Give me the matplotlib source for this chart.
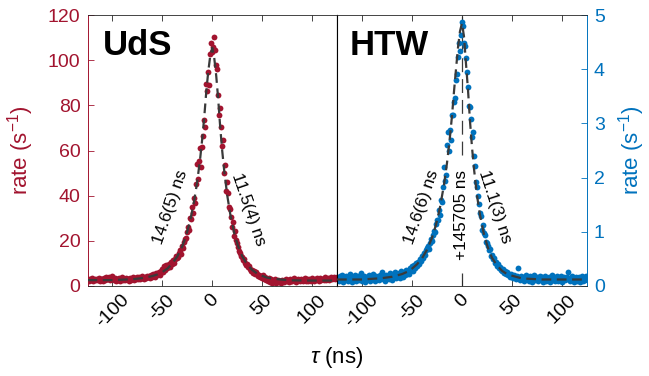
import numpy as np
import matplotlib
matplotlib.use("Agg")
import matplotlib.pyplot as plt

plt.rcParams["font.family"] = ["Liberation Sans", "DejaVu Sans"]
plt.rcParams["mathtext.fontset"] = "custom"
plt.rcParams["mathtext.rm"] = "Liberation Sans"
plt.rcParams["mathtext.it"] = "Liberation Sans:italic"
plt.rcParams["lines.scale_dashes"] = False

RED = "#A2142F"
BLUE = "#0072BD"
FIT = "#3a3a3a"
AXC = "#262626"

# 1 ns bins, centres from -124.5 to 124.5 ns
tau = np.arange(-124.5, 125.0, 1.0)

uds_rate = np.array([
    2.9, 2.4, 3.1, 2.6, 3.5, 2.2, 2.8, 3.3, 2.5, 3.0,
    2.7, 3.6, 2.3, 2.9, 3.2, 2.0, 3.4, 2.6, 3.8, 2.9,
    3.3, 4.1, 2.5, 3.7, 4.4, 3.0, 2.7, 3.5, 2.4, 3.1,
    2.8, 3.4, 2.2, 3.0, 3.9, 2.6, 3.2, 2.5, 3.6, 2.9,
    3.1, 2.4, 3.7, 2.8, 3.3, 4.0, 2.7, 3.5, 2.9, 3.8,
    3.2, 4.2, 2.9, 3.6, 4.5, 3.4, 3.0, 4.1, 3.7, 4.6,
    3.8, 4.4, 3.5, 4.9, 4.2, 5.3, 4.6, 4.0, 5.6, 4.9,
    5.5, 6.3, 5.0, 6.8, 7.4, 6.0, 8.9, 7.2, 9.4, 8.1,
    8.6, 9.8, 8.4, 10.5, 9.6, 11.3, 10.4, 12.0, 13.4, 12.2,
    13.0, 14.6, 15.8, 14.2, 17.9, 16.8, 19.5, 20.8, 21.4, 24.1,
    26.0, 24.8, 30.1, 29.6, 35.0, 32.4, 38.9, 36.7, 45.0, 54.0,
    47.5, 55.2, 60.9, 52.8, 61.5, 66.4, 73.7, 70.6, 89.4, 86.3,
    94.6, 89.0, 102.7, 107.4, 103.8, 106.0, 110.2, 104.5, 98.0, 96.1,
    84.7, 75.9, 78.6, 70.3, 61.8, 64.6, 50.0, 53.4, 42.1, 46.0,
    41.0, 35.2, 34.3, 30.6, 26.1, 28.2, 22.0, 24.3, 20.3, 18.9,
    17.1, 15.3, 14.8, 13.2, 12.9, 11.4, 11.9, 10.1, 9.3, 9.7,
    8.2, 8.9, 7.4, 6.8, 7.2, 5.9, 6.5, 5.4, 6.1, 5.2,
    4.6, 5.0, 3.9, 4.4, 3.4, 4.8, 3.1, 3.8, 2.6, 3.3,
    2.2, 3.6, 1.8, 2.9, 1.5, 2.4, 1.9, 3.1, 1.4, 2.0,
    2.6, 1.7, 2.3, 1.3, 2.8, 2.0, 1.6, 2.5, 3.0, 2.2,
    2.7, 1.9, 3.2, 2.4, 2.0, 2.9, 3.4, 2.3, 1.8, 2.8,
    3.1, 2.5, 2.0, 3.3, 2.6, 2.2, 3.0, 3.6, 2.4, 2.9,
    2.3, 3.2, 2.7, 2.1, 3.5, 2.8, 2.4, 3.1, 2.6, 3.4,
    2.9, 2.2, 3.7, 2.5, 3.0, 3.3, 2.6, 3.9, 2.8, 3.2,
    3.5, 2.7, 3.1, 4.0, 2.9, 3.4, 3.8, 3.0, 3.6, 4.2,
])

htw_rate = np.array([
    0.14, 0.09, 0.18, 0.12, 0.21, 0.08, 0.15, 0.11, 0.19, 0.13,
    0.10, 0.17, 0.22, 0.12, 0.08, 0.16, 0.13, 0.20, 0.09, 0.14,
    0.18, 0.11, 0.15, 0.24, 0.10, 0.13, 0.19, 0.07, 0.16, 0.12,
    0.15, 0.21, 0.09, 0.17, 0.12, 0.23, 0.14, 0.10, 0.18, 0.13,
    0.16, 0.11, 0.20, 0.14, 0.25, 0.12, 0.18, 0.09, 0.21, 0.15,
    0.19, 0.13, 0.24, 0.17, 0.11, 0.22, 0.16, 0.26, 0.14, 0.20,
    0.18, 0.24, 0.15, 0.27, 0.21, 0.17, 0.25, 0.20, 0.29, 0.23,
    0.27, 0.22, 0.33, 0.30, 0.36, 0.28, 0.38, 0.34, 0.42, 0.37,
    0.45, 0.40, 0.50, 0.47, 0.56, 0.52, 0.61, 0.58, 0.66, 0.70,
    0.73, 0.69, 0.80, 0.86, 0.83, 0.95, 1.01, 0.99, 1.14, 1.22,
    1.22, 1.40, 1.31, 1.59, 1.55, 1.82, 2.20, 1.94, 2.05, 2.60,
    2.85, 2.50, 2.87, 2.70, 3.15, 3.16, 3.39, 3.47, 3.80, 3.92,
    4.22, 4.48, 4.34, 4.64, 4.88, 4.79, 4.48, 4.42, 4.20, 3.94,
    3.68, 3.33, 3.31, 3.09, 2.75, 2.84, 2.39, 2.22, 1.92, 1.83,
    1.66, 1.52, 1.34, 1.29, 1.03, 1.12, 0.97, 0.95, 0.81, 0.80,
    0.73, 0.66, 0.69, 0.55, 0.58, 0.49, 0.52, 0.42, 0.44, 0.37,
    0.40, 0.33, 0.35, 0.30, 0.27, 0.31, 0.24, 0.28, 0.22, 0.26,
    0.20, 0.23, 0.17, 0.22, 0.19, 0.14, 0.21, 0.16, 0.12, 0.18,
    0.33, 0.15, 0.11, 0.19, 0.13, 0.17, 0.09, 0.14, 0.20, 0.12,
    0.16, 0.10, 0.18, 0.13, 0.08, 0.15, 0.21, 0.11, 0.14, 0.17,
    0.09, 0.13, 0.19, 0.12, 0.16, 0.07, 0.14, 0.18, 0.10, 0.15,
    0.12, 0.17, 0.08, 0.14, 0.20, 0.11, 0.16, 0.09, 0.13, 0.18,
    0.10, 0.15, 0.12, 0.19, 0.08, 0.14, 0.17, 0.11, 0.13, 0.16,
    0.26, 0.12, 0.09, 0.15, 0.18, 0.11, 0.07, 0.14, 0.16, 0.10,
    0.13, 0.17, 0.08, 0.12, 0.19, 0.10, 0.15, 0.11, 0.18, 0.14,
])

# fitted curves
uds_fit_t = [-125, -100, -80, -70, -60, -55, -50, -45, -40, -35, -30, -26, -22,
             -18, -15, -12, -10, -8, -6, -4, -2, 0, 2, 4, 6, 8, 10, 12, 15, 18,
             22, 26, 30, 35, 40, 45, 50, 55, 60, 70, 80, 100, 125]
uds_fit = [2.6, 2.6, 3.0, 3.5, 4.4, 5.1, 6.2, 7.7, 10.0, 13.1, 17.6, 22.6, 29.2,
           38.0, 46.4, 56.9, 65.3, 74.9, 86.0, 95.0, 102.0, 105.5, 101.0, 93.0,
           82.5, 70.2, 59.8, 51.0, 40.2, 31.9, 23.5, 17.5, 13.2, 9.5, 7.1, 5.5,
           4.5, 3.7, 3.3, 2.8, 2.5, 2.4, 2.4]
htw_fit_t = [-125, -100, -80, -70, -60, -55, -50, -45, -40, -35, -30, -26, -22,
             -18, -15, -12, -10, -8, -6, -4, -2, 0, 2, 4, 6, 8, 10, 12, 15, 18,
             22, 26, 30, 35, 40, 45, 50, 60, 80, 100, 125]
htw_fit = [0.12, 0.12, 0.145, 0.17, 0.22, 0.26, 0.32, 0.40, 0.51, 0.67, 0.89,
           1.13, 1.45, 1.87, 2.27, 2.76, 3.14, 3.59, 4.00, 4.40, 4.70, 4.85,
           4.60, 4.10, 3.62, 3.04, 2.56, 2.16, 1.67, 1.31, 0.95, 0.70, 0.52,
           0.38, 0.28, 0.22, 0.19, 0.14, 0.12, 0.12, 0.12]

xticks = [-100, -50, 0, 50, 100]
xticklabels = ["-100", "-50", "0", "50", "100"]
uds_yticks = [0, 20, 40, 60, 80, 100, 120]
htw_yticks = [0, 1, 2, 3, 4, 5]

fig = plt.figure(figsize=(6.49, 3.76), dpi=100)
W, H = 649, 376
ax1 = fig.add_axes([87.5 / W, 90 / H, 249.5 / W, 271 / H])
ax2 = fig.add_axes([337 / W, 90 / H, 250 / W, 271 / H])

for ax, rate, ft, fv, col, ylim, yt in [
    (ax1, uds_rate, uds_fit_t, uds_fit, RED, 120, uds_yticks),
    (ax2, htw_rate, htw_fit_t, htw_fit, BLUE, 5, htw_yticks),
]:
    ax.plot(tau, rate, "o", ms=4.2, color=col, mec="none", zorder=2)
    ax.plot(ft, fv, color=FIT, lw=1.6, dashes=(7, 4), zorder=3)
    ax.set_xlim(-125, 125)
    ax.set_ylim(0, ylim)
    ax.set_xticks(xticks)
    ax.set_xticklabels(xticklabels, rotation=45, ha="center")
    ax.set_yticks(yt)
    ax.tick_params(axis="x", direction="in", top=True, bottom=True, length=4,
                   width=0.6, color=AXC, labelsize=14, labelcolor="black", pad=4)
    for s in ["top", "bottom"]:
        ax.spines[s].set_color(AXC)
        ax.spines[s].set_linewidth(0.6)

# left panel axis styling
ax1.tick_params(axis="y", direction="in", left=True, right=False, length=4,
                width=0.6, color=RED, labelcolor=RED, labelsize=14, pad=5)
ax1.spines["left"].set_color(RED)
ax1.spines["left"].set_linewidth(0.7)
ax1.spines["right"].set_color("black")
ax1.spines["right"].set_linewidth(0.8)
ax1.set_ylabel("rate (s$^{-1}$)", color=RED, fontsize=16, va="center")
ax1.yaxis.set_label_coords(-0.27, 0.5)

# right panel axis styling
ax2.yaxis.tick_right()
ax2.yaxis.set_label_position("right")
ax2.tick_params(axis="y", direction="in", left=False, right=True, length=4,
                width=0.6, color=BLUE, labelcolor=BLUE, labelsize=14, pad=5)
ax2.spines["right"].set_color(BLUE)
ax2.spines["right"].set_linewidth(0.7)
ax2.spines["left"].set_color("black")
ax2.spines["left"].set_linewidth(0.8)
ax2.set_ylabel("rate (s$^{-1}$)", color=BLUE, fontsize=16, rotation=90, va="center")
ax2.yaxis.set_label_coords(1.18, 0.5)

# time offset marker in HTW panel
for lo, hi in [(0, 0.047), (0.485, 1)]:
    ax2.axvline(0, ymin=lo, ymax=hi, color=FIT, lw=0.9, dashes=(10, 5), zorder=1)

# labels
ax1.text(-110, 102.3, "UdS", fontsize=25, fontweight="bold", ha="left", va="baseline")
ax2.text(-112.5, 4.26, "HTW", fontsize=25, fontweight="bold", ha="left", va="baseline")

kw = dict(fontsize=12.3, ha="center", va="center", rotation_mode="anchor")
ax1.text(-41.8, 34.9, "14.6(5) ns", rotation=71, **kw)
ax1.text(36.5, 34.1, "11.5(4) ns", rotation=-71, **kw)
ax2.text(-40, 1.45, "14.6(6) ns", rotation=71, **kw)
ax2.text(-0.8, 1.31, "+145705 ns", rotation=90, **kw)
ax2.text(32.5, 1.46, "11.1(3) ns", rotation=-72, **kw)

fig.text(337 / W, 1 - 357 / H, r"$\tau$ (ns)", fontsize=16, ha="center", va="center")

fig.savefig("out.png", dpi=100)
